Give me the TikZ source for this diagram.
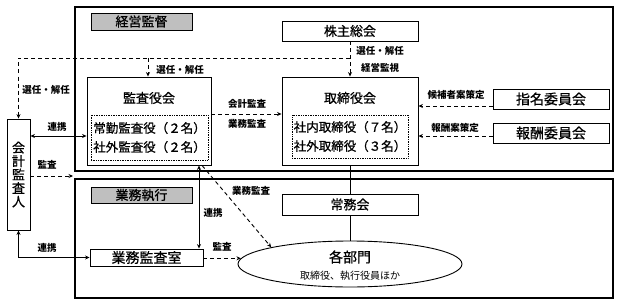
\documentclass[tikz,border=0pt]{standalone}
\usepackage{fontspec}
\setmainfont{Noto Sans CJK JP}
\newfontfamily\jpt{Noto Sans CJK JP}[FakeBold=0.8]
\usetikzlibrary{arrows.meta,shapes.geometric}
\tikzset{
  frame/.style={draw, line width=1.2pt, inner sep=0pt, anchor=center},
  box/.style={draw, line width=0.9pt, inner sep=0pt, anchor=center, font=\jpt\fontsize{13}{14}\selectfont},
  tag/.style={draw, line width=0.9pt, fill=black!25, inner sep=0pt, font=\jpt\fontsize{13}{14}\selectfont},
  inbox/.style={draw, densely dotted, line width=0.7pt, inner sep=0pt, align=center, font=\jpt\fontsize{12.5}{19}\selectfont},
  ttl/.style={inner sep=0pt, font=\jpt\fontsize{13}{14}\selectfont},
  lbl/.style={inner sep=0pt, font=\bfseries\fontsize{9.5}{10}\selectfont},
  dsh/.style={line width=0.9pt, dash pattern=on 4pt off 3pt},
  sld/.style={line width=0.9pt},
  tip/.style={-{Stealth[length=4.5pt,width=4pt]}},
  tips/.style={{Stealth[length=4.5pt,width=4pt]}-{Stealth[length=4.5pt,width=4pt]}},
}
\begin{document}
\begin{tikzpicture}[x=1pt,y=-1pt]
\useasboundingbox (0,0) rectangle (620,305);
% frames
\node[frame, minimum width=538pt, minimum height=164pt] (upper) at (344,89) {};
\node[frame, minimum width=538pt, minimum height=119pt] (lower) at (344,238.5) {};
\node[tag, minimum width=101pt, minimum height=17pt] (keiei) at (141.5,21.5) {経営監督};
\node[tag, minimum width=101pt, minimum height=16pt] (gyomu) at (141.5,195) {業務執行};
% boxes
\node[box, minimum width=136pt, minimum height=20pt] (kabu) at (350,31) {株主総会};
\node[box, minimum width=124pt, minimum height=88pt] (kansa) at (149,121) {};
\node[ttl] (kansat) at (149,98) {監査役会};
\node[inbox, minimum width=117pt, minimum height=45pt] (kansain) at (149.5,137.5) {常勤監査役（２名）\\社外監査役（２名）};
\node[box, minimum width=136pt, minimum height=88pt] (tori) at (350,121) {};
\node[ttl] (torit) at (350,98) {取締役会};
\node[inbox, minimum width=116pt, minimum height=43pt] (toriin) at (350,136.5) {社内取締役（７名）\\社外取締役（３名）};
\node[box, minimum width=116pt, minimum height=20pt, font=\jpt\fontsize{14}{15}\selectfont] (shimei) at (551,99) {指名委員会};
\node[box, minimum width=116pt, minimum height=20pt, font=\jpt\fontsize{14}{15}\selectfont] (hoshu) at (551,133) {報酬委員会};
\node[box, minimum width=23pt, minimum height=111pt, align=center, font=\jpt\fontsize{13}{13.5}\selectfont] (kaikei) at (18.5,174.5) {会\\計\\監\\査\\人};
\node[box, minimum width=136pt, minimum height=21pt] (jomu) at (350,204.5) {常務会};
\node[draw, ellipse, line width=0.9pt, minimum width=224pt, minimum height=46pt, inner sep=0pt] (bumon) at (350,264) {};
\node[inner sep=0pt, font=\jpt\fontsize{14}{15}\selectfont] (bumont) at (350,257) {各部門};
\node[inner sep=0pt, font=\fontsize{10}{11}\selectfont] (bumons) at (350,276) {取締役、執行役員ほか};
\node[box, minimum width=113pt, minimum height=17pt, font=\jpt\fontsize{14}{15}\selectfont] (gkansa) at (146.5,257.5) {業務監査室};
% coordinates
\coordinate (j1) at (350,58);
\coordinate (j2) at (148,58);
\coordinate (aend) at (73,176);
% connectors from 株主総会
\draw[dsh, tip] (kabu.south) -- (tori.north);
\draw[dsh, tip] (j1) -| (kaikei.north);
\draw[dsh, tip] (j2) -- (j2 |- kansa.north);
% 監査役会 -> 取締役会
\draw[dsh, tip] ([yshift=7pt]kansa.east) -- ([yshift=7pt]tori.west);
% committees
\draw[dsh, tip] ([yshift=-7pt]shimei.west) -- ([yshift=-7pt]shimei.west -| tori.east);
\draw[dsh, tip] ([yshift=-3pt]hoshu.west) -- ([yshift=-3pt]hoshu.west -| tori.east);
% 会計監査人
\draw[sld, tips] ([yshift=-15pt]kaikei.east |- kansa.west) -- ([yshift=-15pt]kansa.west);
\draw[dsh, tip] (kaikei.east |- aend) -- (aend);
\draw[sld, tips] (kaikei.south) |- (gkansa.west);
% 監査役会 <-> 業務監査室
\draw[sld, tips] ([xshift=50pt]kansa.south) -- ([xshift=50pt]kansa.south |- gkansa.north);
% 業務監査室 -> 各部門
\draw[dsh, tip] (gkansa.east |- bumon.177) -- (bumon.177);
% 業務監査 diagonal
\draw[dsh, tip] ([xshift=53pt]kansa.south) -- (bumon.168);
% solid chain
\draw[sld] (tori.south) -- (jomu.north);
\draw[sld] (jomu.south) -- (bumon.north);
% labels
\node[lbl] (l1) at (180,70) {選任・解任};
\node[lbl] (l2) at (46,90) {選任・解任};
\node[lbl] (l3) at (380,51) {選任・解任};
\node[lbl] (l4) at (380,68) {経営監視};
\node[lbl] (l5) at (247,104) {会計監査};
\node[lbl] (l6) at (247,124) {業務監査};
\node[lbl] (l7) at (456,95) {候補者案策定};
\node[lbl] (l8) at (455,128) {報酬案策定};
\node[lbl] (l9) at (57,127) {連携};
\node[lbl] (l10) at (47,165) {監査};
\node[lbl] (l11) at (47,248) {連携};
\node[lbl] (l12) at (213,213) {連携};
\node[lbl] (l13) at (222,247) {監査};
\node[lbl] (l14) at (251,191) {業務監査};
\end{tikzpicture}
\end{document}
